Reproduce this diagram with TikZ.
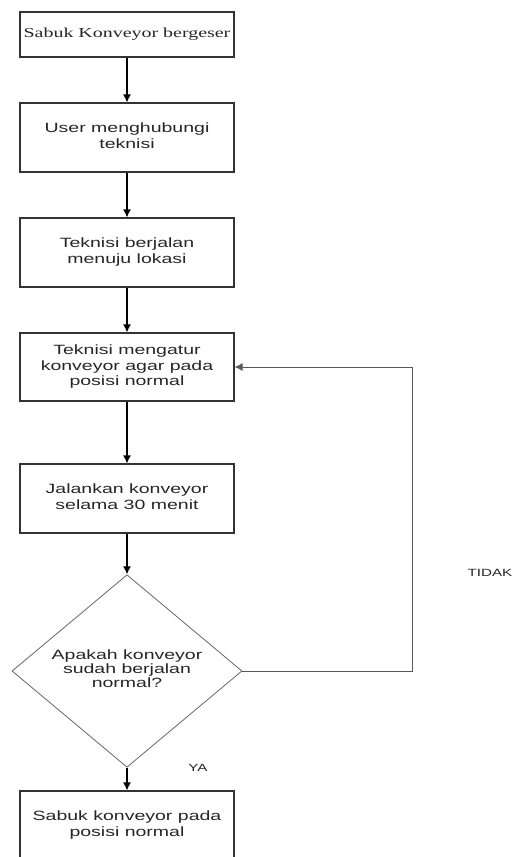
\documentclass[tikz,border=0pt]{standalone}
\usepackage{graphicx}
\usepackage{fontspec}
\setmainfont{Liberation Sans}
\newfontfamily\serifbox{Liberation Serif}
\usetikzlibrary{positioning,shapes.geometric,arrows.meta}

% text in the picture is stretched sideways
\newcommand{\wtext}[1]{\scalebox{1.45}[1]{\begin{tabular}{@{}c@{}}#1\end{tabular}}}

\begin{document}
\begin{tikzpicture}[x=1bp,y=-1bp,>={Latex[width=8bp,length=8bp]},
    proses/.style={draw=black!80,line width=1.2bp,minimum width=214bp,minimum height=69bp,inner sep=0pt,text=black!85,font=\fontsize{13.5}{15.5}\selectfont},
    keputusan/.style={diamond,draw=black!60,line width=0.8bp,minimum width=230bp,minimum height=148bp,inner sep=0pt,text=black!85,font=\fontsize{13.5}{14}\selectfont},
    alur/.style={->,line width=1.2bp},
    balik/.style={->,draw=black!65,line width=1bp},
    ket/.style={text=black!85,font=\fontsize{10.5}{12}\selectfont}]
        \useasboundingbox (0,0) rectangle (514,857);
        \node[proses,minimum height=45bp,font=\serifbox\fontsize{13.8}{15.5}\selectfont] (mulai) at (127,34.5) {\wtext{Sabuk Konveyor bergeser}};
        \node[proses] (hubungi) at (127,137.5) {\wtext{User menghubungi\\teknisi}};
        \node[proses] (jalan) at (127,252.5) {\wtext{Teknisi berjalan\\menuju lokasi}};
        \node[proses,minimum height=68bp] (atur) at (127,367) {\wtext{Teknisi mengatur\\konveyor agar pada\\posisi normal}};
        \node[proses] (uji) at (127,498.5) {\wtext{Jalankan konveyor\\selama 30 menit}};
        \node[keputusan] (cek) at (127,671) {\wtext{Apakah konveyor\\sudah berjalan\\normal?}};
        \node[proses] (selesai) at (127,825.5) {\wtext{Sabuk konveyor pada\\posisi normal}};
        \coordinate (belok) at (412,671);
        \draw[alur] (mulai) -- (hubungi);
        \draw[alur] (hubungi) -- (jalan);
        \draw[alur] (jalan) -- (atur);
        \draw[alur] (atur) -- (uji);
        \draw[alur] (uji) -- (cek);
        \draw[alur] (cek) -- (selesai);
        \draw[balik] (cek.east) -- (belok) |- (atur.east);
        \node[ket] (tidak) at (490,573) {\scalebox{1.45}[1]{TIDAK}};
        \node[ket] (ya) at (198,768) {\scalebox{1.45}[1]{YA}};
    \end{tikzpicture}
\end{document}
